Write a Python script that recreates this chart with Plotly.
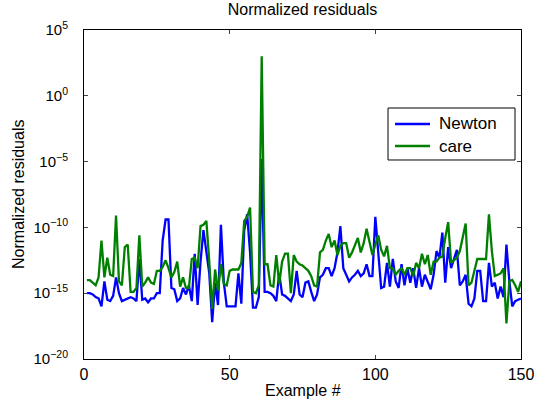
import numpy as np
import plotly.graph_objects as go

# Example numbers 1..150
examples = list(range(1, 151))

# log10 of normalized residuals
newton_exp = [
    -15.0, -15.0, -15.1, -15.3, -15.4, -16.0, -14.1, -15.5, -15.6, -15.2,
    -13.8, -15.0, -15.6, -15.5, -15.4, -15.3, -15.4, -15.6, -12.4, -15.5,
    -15.4, -15.7, -15.4, -15.4, -15.0, -15.0, -11.0, -9.4, -9.4, -14.6,
    -14.7, -15.6, -15.4, -14.6, -15.1, -14.4, -15.6, -12.0, -15.9, -12.6,
    -10.2, -12.0, -13.5, -17.2, -14.2, -15.9, -9.8, -14.2, -16.0, -16.0,
    -16.0, -16.0, -13.5, -15.8, -10.2, -9.0, -11.9, -16.1, -16.1, -15.3,
    -4.8, -14.9, -14.9, -15.0, -15.2, -15.6, -13.5, -15.1, -15.2, -15.4,
    -15.6, -15.1, -13.3, -15.1, -15.3, -14.2, -14.1, -14.9, -15.6, -15.1,
    -13.8, -13.6, -13.1, -13.1, -13.7, -13.1, -11.9, -9.9, -13.1, -13.6,
    -14.1, -13.8, -13.6, -13.3, -13.7, -13.5, -12.8, -13.7, -13.7, -9.2,
    -12.1, -14.6, -14.5, -12.7, -14.5, -12.4, -14.1, -14.6, -12.8, -14.4,
    -13.1, -14.2, -13.1, -14.6, -13.1, -14.5, -13.6, -14.1, -14.7, -13.6,
    -11.8, -12.3, -10.4, -14.2, -11.5, -13.1, -12.4, -11.7, -14.4, -14.1,
    -13.6, -15.8, -16.0, -15.4, -13.3, -13.3, -15.6, -15.6, -12.7, -14.5,
    -14.2, -15.4, -14.5, -15.3, -11.3, -14.1, -16.0, -15.6, -15.5, -15.4,
]

care_exp = [
    -14.0, -14.0, -14.2, -14.4, -13.8, -11.0, -13.8, -12.3, -13.6, -13.7,
    -9.1, -14.1, -14.4, -11.5, -11.3, -14.9, -14.9, -14.6, -10.6, -14.5,
    -14.2, -13.8, -14.2, -14.3, -13.3, -13.3, -13.0, -12.5, -13.1, -13.8,
    -13.4, -12.6, -14.5, -13.8, -14.6, -14.6, -12.4, -12.3, -13.1, -9.9,
    -9.8, -9.5, -12.6, -16.2, -13.2, -14.8, -12.8, -14.3, -14.4, -13.3,
    -13.2, -13.2, -13.2, -12.7, -9.5, -9.2, -8.5, -14.9, -15.0, -14.4,
    3.0, -12.8, -12.8, -14.4, -14.5, -12.1, -14.3, -12.6, -12.0, -12.0,
    -15.0, -12.1, -12.6, -12.8, -12.9, -13.1, -13.3, -13.7, -14.4, -14.5,
    -11.9, -11.7, -11.0, -10.5, -11.5, -11.0, -12.1, -11.4, -11.2, -11.2,
    -12.3, -11.9, -11.3, -10.8, -11.9, -11.2, -10.1, -11.0, -12.1, -11.3,
    -10.6, -11.7, -12.2, -11.4, -13.1, -13.1, -13.6, -13.3, -13.1, -13.6,
    -13.1, -13.1, -13.7, -12.7, -13.1, -12.0, -12.8, -12.1, -13.6, -12.6,
    -12.6, -12.3, -12.2, -10.8, -9.6, -12.7, -12.5, -12.3, -11.8, -10.8,
    -9.7, -14.4, -14.2, -13.3, -12.4, -12.4, -12.4, -12.4, -9.0, -11.8,
    -13.7, -13.6, -13.5, -13.1, -17.3, -14.1, -14.0, -14.4, -14.9, -14.1,
]

series_names = ["Newton", "care"]
series_colors = ["#0000FF", "#008000"]

y_tick_vals = [1e5, 1e0, 1e-5, 1e-10, 1e-15, 1e-20]
y_tick_text = ["10<sup>5</sup>", "10<sup>0</sup>", "10<sup>\u22125</sup>",
               "10<sup>\u221210</sup>", "10<sup>\u221215</sup>", "10<sup>\u221220</sup>"]
x_tick_vals = [0, 50, 100, 150]

newton = [10.0 ** e for e in newton_exp]
care = [10.0 ** e for e in care_exp]

font_family = "Liberation Sans, Arial, Helvetica, sans-serif"

fig = go.Figure()
for name, ys, col in zip(series_names, [newton, care], series_colors):
    fig.add_trace(go.Scatter(x=examples, y=ys, mode="lines", name=name,
                             line=dict(color=col, width=2.3), showlegend=False))

# MATLAB-style legend box (paper coordinates)
leg_x0, leg_x1, leg_y0, leg_y1 = 0.6957, 0.9863, 0.6049, 0.7629
row_y = [0.7143, 0.6474]
line_x0, line_x1, text_x = 0.7117, 0.7918, 0.8078

shapes = [dict(type="rect", xref="paper", yref="paper", x0=leg_x0, x1=leg_x1,
               y0=leg_y0, y1=leg_y1, line=dict(color="black", width=1),
               fillcolor="white", layer="above")]
annotations = [
    dict(text="Normalized residuals", xref="paper", yref="paper",
         x=-0.15, y=0.5, xanchor="center", yanchor="middle",
         textangle=-90, showarrow=False, font=dict(size=16)),
    dict(text="Example #", xref="paper", yref="paper",
         x=0.5, y=-0.095, xanchor="center", yanchor="middle",
         showarrow=False, font=dict(size=16)),
]
for name, col, ry in zip(series_names, series_colors, row_y):
    shapes.append(dict(type="line", xref="paper", yref="paper", x0=line_x0, x1=line_x1,
                       y0=ry, y1=ry, line=dict(color=col, width=2.3), layer="above"))
    annotations.append(dict(text=name, xref="paper", yref="paper", x=text_x, y=ry,
                            xanchor="left", yanchor="middle", showarrow=False,
                            font=dict(size=17)))

fig.update_layout(
    width=544, height=403,
    margin=dict(l=84, r=23, t=30, b=44, autoexpand=False),
    paper_bgcolor="white", plot_bgcolor="white",
    font=dict(family=font_family, size=15, color="black"),
    title=dict(text="Normalized residuals", x=0.5, xref="paper", xanchor="center",
               y=1 - 4 / 403, yref="container", yanchor="top",
               font=dict(size=16, color="black")),
    showlegend=False,
    shapes=shapes,
    annotations=annotations,
)
fig.update_xaxes(range=[0, 150], tickvals=x_tick_vals, ticks="inside", ticklen=4,
                 showline=True, linecolor="black", linewidth=1, mirror="ticks",
                 showgrid=False, zeroline=False, automargin=False,
                 tickfont=dict(size=16), ticklabelstandoff=1)
fig.update_yaxes(type="log", range=[-20, 5], tickvals=y_tick_vals, ticktext=y_tick_text,
                 ticks="inside", ticklen=4,
                 showline=True, linecolor="black", linewidth=1, mirror="ticks",
                 showgrid=False, zeroline=False, automargin=False,
                 tickfont=dict(size=15), ticklabelstandoff=12)

fig.write_html("out.html", config={"displayModeBar": False},
               post_script="document.body.style.margin='0';")
